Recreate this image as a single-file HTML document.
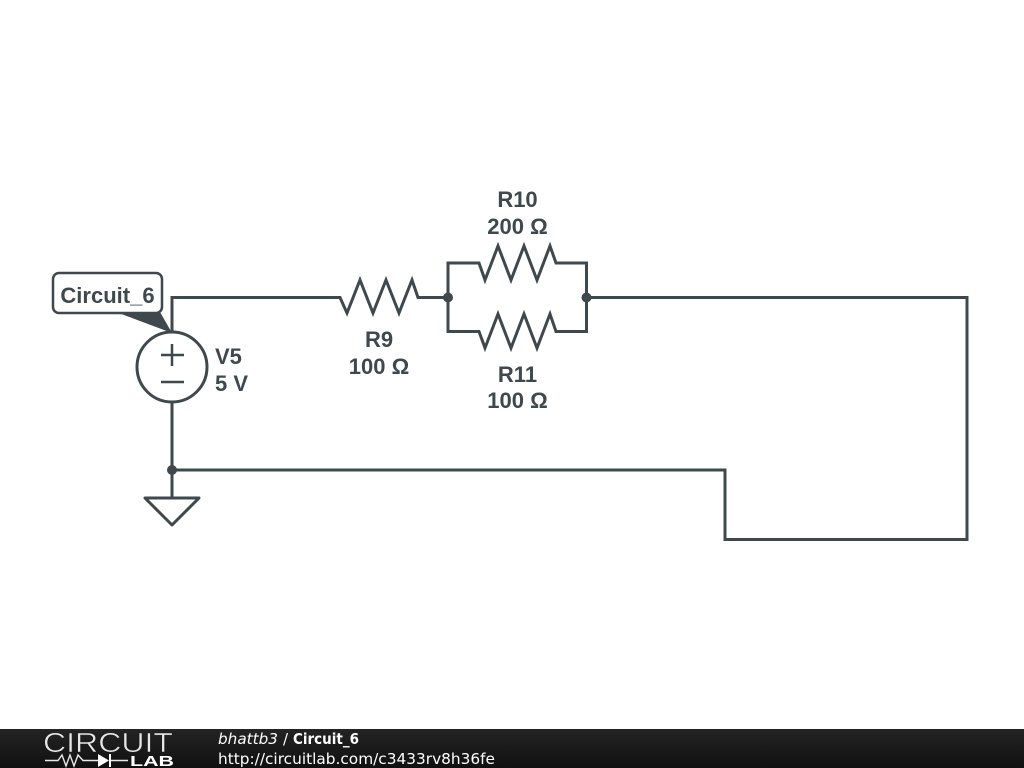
<!DOCTYPE html>
<html>
<head>
<meta charset="utf-8">
<style>
html,body{margin:0;padding:0;background:#fff;width:1024px;height:768px;overflow:hidden}
svg{display:block}
.l{font-family:"Liberation Sans",sans-serif;font-weight:bold;font-size:22px;fill:#3f484c;text-anchor:middle}
.f{font-family:"DejaVu Sans",sans-serif;font-size:15px;fill:#fff}
</style>
</head>
<body>
<svg width="1024" height="768" viewBox="0 0 1024 768" xmlns="http://www.w3.org/2000/svg">
<rect width="1024" height="768" fill="#fff"/>
<g fill="none" stroke="#3f484c" stroke-width="3" stroke-linejoin="miter">
<path d="M172 332V297.500H340L347 313L360 280L373 313L386 280L399 313L412 280L418 297.500H448"/>
<path d="M448 297.500V263H479L485 280L498 246L511 280L524 246L537 280L550 246L556 263H586.500V297.500"/>
<path d="M448 297.500V331.500H479L485 348L498 314L511 348L524 314L537 348L550 314L556 331.500H586.500V297.500"/>
<path d="M586.500 297.500H967V539.500H725V470H172"/>
<path d="M172 402V498"/>
<path d="M145 498H199L172 525Z" stroke-linejoin="round"/>
<circle cx="172" cy="367" r="35"/>
<path d="M161 355H184M172 344V366M161 382H184" stroke-width="2.500"/>
</g>
<g fill="#3f484c">
<circle cx="448" cy="297.500" r="5"/>
<circle cx="586.500" cy="297.500" r="5"/>
<circle cx="172" cy="470" r="5"/>
<path d="M116 312L160 312L172 333Z"/>
</g>
<rect x="53" y="273" width="109" height="40" rx="6" ry="6" fill="#fff" stroke="#3f484c" stroke-width="2.500"/>
<text class="l" x="107.500" y="303">Circuit_6</text>
<text class="l" x="215" y="364" style="text-anchor:start">V5</text>
<text class="l" x="215" y="391" style="text-anchor:start">5 V</text>
<text class="l" x="379" y="347">R9</text>
<text class="l" x="379" y="374">100 Ω</text>
<text class="l" x="517.500" y="207">R10</text>
<text class="l" x="517.500" y="234">200 Ω</text>
<text class="l" x="517.500" y="382">R11</text>
<text class="l" x="517.500" y="408">100 Ω</text>

<defs>
<linearGradient id="bar" x1="0" y1="0" x2="0" y2="1">
<stop offset="0" stop-color="#242424"/>
<stop offset="1" stop-color="#101010"/>
</linearGradient>
</defs>
<rect x="0" y="729" width="1024" height="39" fill="url(#bar)"/>
<text x="43" y="752" style="font-family:'Liberation Sans',sans-serif;font-size:28px;fill:#e8e8e8" textLength="130" lengthAdjust="spacingAndGlyphs" stroke="#1c1c1c" stroke-width="0.600">CIRCUIT</text>
<path d="M45 760.500H58L62 755L66 766L70 755L74 766L78 755L83 760.500H98M110 760.500H128" fill="none" stroke="#e8e8e8" stroke-width="1.400"/>
<path d="M98 754V767L109 760.500Z" fill="#fff"/>
<path d="M110 754V767" stroke="#fff" stroke-width="2"/>
<text x="130" y="766" style="font-family:'Liberation Sans',sans-serif;font-weight:bold;font-size:15px;fill:#fff" textLength="44" lengthAdjust="spacingAndGlyphs">LAB</text>
<text class="f" x="218" y="744" font-style="italic" textLength="60" lengthAdjust="spacingAndGlyphs">bhattb3</text>
<text class="f" x="283" y="744">/</text>
<text class="f" x="293" y="744" font-weight="bold" textLength="66" lengthAdjust="spacingAndGlyphs">Circuit_6</text>
<text class="f" x="218" y="764" textLength="277" lengthAdjust="spacingAndGlyphs">http://circuitlab.com/c3433rv8h36fe</text>
</svg>
</body>
</html>
